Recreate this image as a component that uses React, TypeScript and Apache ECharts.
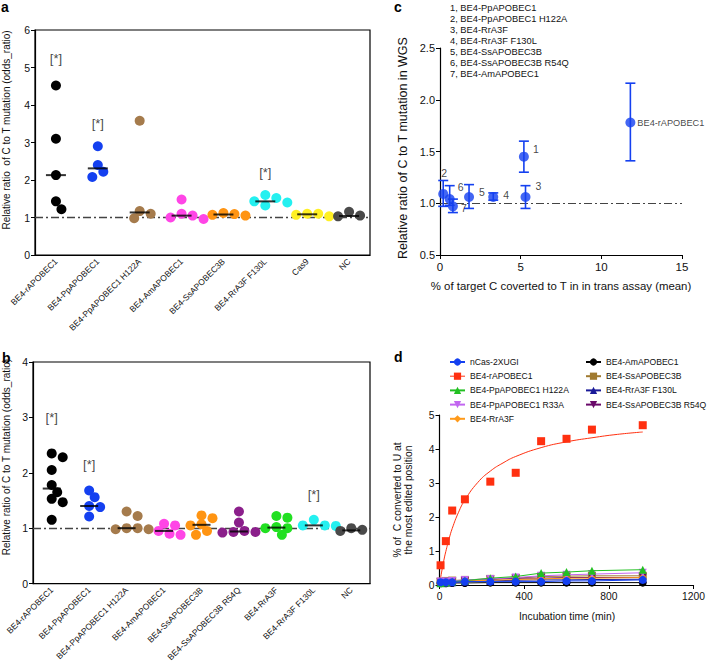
import React, { useEffect, useRef } from "react";
import * as echarts from "echarts";

// ---------- Panel a ----------
const catsA = ["BE4-rAPOBEC1", "BE4-PpAPOBEC1", "BE4-PpAPOBEC1 H122A", "BE4-AmAPOBEC1", "BE4-SsAPOBEC3B", "BE4-RrA3F F130L", "Cas9", "NC"];
const valsA = [
  [4.52, 3.1, 2.13, 1.43, 1.22],
  [2.9, 2.4, 2.22, 2.08],
  [3.58, 1.17, 1.1, 0.98],
  [1.48, 1.1, 1.05, 1.0, 0.96],
  [1.12, 1.09, 1.07, 1.05],
  [1.6, 1.52, 1.43, 1.4, 1.32],
  [1.1, 1.1, 1.07, 1.03],
  [1.15, 1.05, 1.03, 1.0],
];
const starCatsA = [0, 1, 5];
const starYA = [5.25, 3.52, 2.2];

// ---------- Panel b ----------
const catsB = ["BE4-rAPOBEC1", "BE4-PpAPOBEC1", "BE4-PpAPOBEC1 H122A", "BE4-AmAPOBEC1", "BE4-SsAPOBEC3B", "BE4-SsAPOBEC3B R54Q", "BE4-RrA3F", "BE4-RrA3F F130L", "NC"];
const valsB = [
  [2.35, 2.28, 2.05, 1.78, 1.65, 1.53, 1.47, 1.15],
  [1.68, 1.56, 1.4, 1.38, 1.21],
  [1.3, 1.22, 1.0, 0.98, 0.98, 1.0],
  [1.08, 1.05, 0.95, 0.9, 0.88],
  [1.23, 1.18, 1.07, 1.05, 0.95, 0.88],
  [1.3, 1.1, 0.95, 0.93, 0.92, 0.93],
  [1.22, 1.19, 1.02, 1.0, 1.0, 0.88],
  [1.15, 1.05, 1.05, 1.04],
  [1.0, 0.97, 0.93, 0.95],
];
const starCatsB = [0, 1, 7];
const starYB = [3.0, 2.15, 1.6];

// ---------- Panel c ----------
const cNames = ["BE4-rAPOBEC1", "1", "2", "3", "4", "5", "6", "7"];
const cX = [11.8, 5.2, 0.2, 5.3, 3.3, 1.8, 0.6, 0.8];
const cY = [1.78, 1.45, 1.09, 1.06, 1.06, 1.06, 1.04, 0.97];
const cLow = [1.41, 1.3, 0.97, 0.95, 1.03, 0.95, 0.98, 0.91];
const cHigh = [2.16, 1.6, 1.22, 1.17, 1.1, 1.18, 1.17, 1.04];
const cKey = [
  "1, BE4-PpAPOBEC1",
  "2, BE4-PpAPOBEC1 H122A",
  "3, BE4-RrA3F",
  "4, BE4-RrA3F F130L",
  "5, BE4-SsAPOBEC3B",
  "6, BE4-SsAPOBEC3B R54Q",
  "7, BE4-AmAPOBEC1",
];

// ---------- Panel d ----------
const dTimes = [5, 30, 60, 120, 240, 360, 480, 600, 720, 960];
const dNames = ["nCas-2XUGI", "BE4-rAPOBEC1", "BE4-PpAPOBEC1 H122A", "BE4-PpAPOBEC1 R33A", "BE4-RrA3F", "BE4-AmAPOBEC1", "BE4-SsAPOBEC3B", "BE4-RrA3F F130L", "BE4-SsAPOBEC3B R54Q"];
const dNCas = [0.08, 0.08, 0.08, 0.1, 0.1, 0.1, 0.1, 0.12, 0.12, 0.15];
const dRAPO = [0.58, 1.29, 2.19, 2.52, 3.04, 3.3, 4.23, 4.3, 4.57, 4.7];
const dH122A = [0.05, 0.07, 0.1, 0.13, 0.2, 0.25, 0.35, 0.38, 0.42, 0.45];
const dR33A = [0.1, 0.1, 0.12, 0.15, 0.18, 0.22, 0.27, 0.3, 0.32, 0.36];
const dRrA3F = [0.08, 0.1, 0.1, 0.12, 0.14, 0.16, 0.18, 0.2, 0.2, 0.22];
const dAm = [0.05, 0.05, 0.06, 0.06, 0.07, 0.07, 0.07, 0.07, 0.07, 0.07];
const dSs = [0.1, 0.12, 0.13, 0.15, 0.18, 0.2, 0.25, 0.26, 0.27, 0.27];
const dF130L = [0.06, 0.07, 0.08, 0.1, 0.12, 0.14, 0.15, 0.15, 0.16, 0.17];
const dR54Q = [0.08, 0.09, 0.1, 0.12, 0.16, 0.2, 0.2, 0.22, 0.22, 0.22];
const fitTimes = [0, 10, 20, 30, 45, 60, 90, 120, 180, 240, 300, 360, 480, 600, 720, 840, 960];
const fitVals = [0, 0.38, 0.71, 0.99, 1.35, 1.66, 2.14, 2.5, 3.01, 3.35, 3.59, 3.78, 4.04, 4.21, 4.33, 4.43, 4.5];

const FONT = "Liberation Sans, Arial, sans-serif";
const TXT = "#111";
const colA = ["#000000", "#1440F0", "#A57B4C", "#FF45E6", "#FF9412", "#24F0F0", "#FFF024", "#4A4A4A"];
const colB = ["#000000", "#1440F0", "#A57B4C", "#FF45E6", "#FF9412", "#8B1F8B", "#22E022", "#24F0F0", "#4A4A4A"];
const BLUE = "#1440F0";
const RED = "#FF3010";

function median(v: number[]) {
  const s = [...v].sort((a, b) => a - b);
  const n = s.length;
  return n % 2 ? s[(n - 1) / 2] : (s[n / 2 - 1] + s[n / 2]) / 2;
}

function swarm(vals: number[], pxPerY: number, pxPerCat: number, d: number) {
  const order = vals.map((_, i) => i).sort((a, b) => vals[b] - vals[a]);
  const placed: { x: number; y: number }[] = [];
  const offs = new Array(vals.length).fill(0);
  for (const i of order) {
    const y = vals[i] * pxPerY;
    let best = 0;
    for (let k = 0; k < 40; k++) {
      const cand = k === 0 ? 0 : (k % 2 === 1 ? 1 : -1) * Math.ceil(k / 2) * d * 0.55;
      if (placed.every((p) => Math.hypot(p.x - cand, p.y - y) >= d * 0.85)) {
        best = cand;
        break;
      }
    }
    placed.push({ x: best, y });
    offs[i] = best / pxPerCat;
  }
  return offs;
}

function beePanel(gi: number, xVal: number, cats: string[], vals: number[][], cols: string[], pxY: number, pxC: number, starC: number[], starY: number[], barW: number) {
  const series: any[] = [];
  vals.forEach((v, ci) => {
    const offs = swarm(v, pxY, pxC, 10);
    series.push({
      type: "scatter",
      xAxisIndex: xVal,
      yAxisIndex: gi,
      symbolSize: 10,
      itemStyle: { color: cols[ci], opacity: 1 },
      data: v.map((y, i) => [ci + offs[i], y]),
      z: 3,
    });
  });
  series.push({
    type: "scatter",
    xAxisIndex: xVal,
    yAxisIndex: gi,
    symbol: "rect",
    symbolSize: [barW, 2],
    itemStyle: { color: "#000" },
    data: vals.map((v, ci) => [ci, median(v)]),
    z: 5,
    markLine: {
      silent: true,
      symbol: "none",
      label: { show: false },
      lineStyle: { color: "#444", width: 1.3, type: [8, 3, 2, 3] },
      data: [{ yAxis: 1 }],
      z: 2,
    },
  });
  series.push({
    type: "scatter",
    xAxisIndex: xVal,
    yAxisIndex: gi,
    symbolSize: 1,
    itemStyle: { color: "rgba(0,0,0,0)" },
    label: { show: true, position: "inside", formatter: "[*]", fontSize: 13, color: TXT, fontFamily: FONT },
    data: starC.map((c, i) => [c, starY[i]]),
  });
  const xAxes = [
    {
      type: "category",
      gridIndex: gi,
      data: cats,
      boundaryGap: true,
      axisLine: { lineStyle: { color: "#000", width: 1.2 } },
      axisTick: { show: false },
      axisLabel: { rotate: 45, interval: 0, fontSize: 8.5, color: TXT, fontFamily: FONT, margin: 5 },
    },
    { type: "value", gridIndex: gi, min: -0.5, max: cats.length - 0.5, show: false },
  ];
  return { series, xAxes };
}

export default function App() {
  const ref = useRef<HTMLDivElement>(null);
  useEffect(() => {
    document.body.style.margin = "0";
    const chart = echarts.init(ref.current!, null, { renderer: "svg" });

    const pa = beePanel(0, 1, catsA, valsA, colA, 37.5, 335 / 8, starCatsA, starYA, 20);
    const pb = beePanel(1, 3, catsB, valsB, colB, 56, 337 / 9, starCatsB, starYB, 18);

    const yBase = (gi: number, min: number, max: number, interval: number, fs: number, fmt?: (v: number) => string) => ({
      type: "value",
      gridIndex: gi,
      min,
      max,
      interval,
      splitLine: { show: false },
      axisLine: { show: true, onZero: false, lineStyle: { color: "#000", width: 1.2 } },
      axisTick: { show: true, length: 4, lineStyle: { color: "#000" } },
      axisLabel: { fontSize: fs, color: TXT, fontFamily: FONT, margin: 5, formatter: fmt },
    });

    const labelCfg: any[] = [
      { position: "right", offset: [-2, 0] },
      { position: "right", offset: [0, -8] },
      { position: "top", offset: [1, -6] },
      { position: "right", offset: [1, -11] },
      { position: "right", offset: [1, -2] },
      { position: "right", offset: [1, -5] },
      { position: "right", offset: [-1, -12] },
      { position: "right", offset: [-1, 2] },
    ];

    const dSets = [dNCas, dRAPO, dH122A, dR33A, dRrA3F, dAm, dSs, dF130L, dR54Q];
    const dCols = [BLUE, RED, "#22C022", "#C266F0", "#FF9A1A", "#000000", "#A07A30", "#1A1A99", "#6A0A6A"];
    const downTri = "path://M0,0L10,0L5,9Z";
    const dSyms = ["circle", "rect", "triangle", downTri, "diamond", "circle", "rect", "triangle", downTri];
    const drawOrder = [5, 6, 8, 7, 4, 3, 2, 1, 0];
    const dSeries: any[] = drawOrder.map((k) => ({
      name: dNames[k],
      type: "line",
      xAxisIndex: 5,
      yAxisIndex: 3,
      symbol: dSyms[k],
      symbolSize: 8,
      showSymbol: true,
      itemStyle: { color: dCols[k] },
      lineStyle: { color: dCols[k], width: k === 1 ? 0 : 1 },
      data: dTimes.map((t, i) => [t, dSets[k][i]]),
      z: 3 + drawOrder.indexOf(k),
    }));
    dSeries.push({
      type: "line",
      xAxisIndex: 5,
      yAxisIndex: 3,
      smooth: true,
      showSymbol: false,
      symbol: "none",
      lineStyle: { color: RED, width: 1 },
      data: fitTimes.map((t, i) => [t, fitVals[i]]),
      z: 2,
    });

    const legendItem = (n: string) => (n === "BE4-rAPOBEC1" ? { name: n, lineStyle: { width: 1 } } : { name: n });
    const legendText = { fontSize: 8.6, color: TXT, fontFamily: FONT, lineHeight: 10 };

    const option: any = {
      animation: false,
      textStyle: { fontFamily: FONT },
      grid: [
        { left: 35, top: 30, width: 335, height: 225, show: true, borderColor: "#000", borderWidth: 1.2 },
        { left: 33, top: 362, width: 337, height: 224, show: true, borderColor: "#000", borderWidth: 1.2 },
        { left: 440, top: 48, width: 242, height: 207 },
        { left: 439.5, top: 415, width: 255.5, height: 170 },
      ],
      xAxis: [
        ...pa.xAxes,
        ...pb.xAxes,
        {
          type: "value",
          gridIndex: 2,
          min: 0,
          max: 15,
          interval: 5,
          splitLine: { show: false },
          axisLine: { onZero: false, lineStyle: { color: "#000", width: 1.2 } },
          axisTick: { length: 4, lineStyle: { color: "#000" } },
          axisLabel: { fontSize: 11.5, color: TXT, fontFamily: FONT, margin: 6 },
        },
        {
          type: "value",
          gridIndex: 3,
          min: 0,
          max: 1200,
          interval: 400,
          splitLine: { show: false },
          axisLine: { onZero: false, lineStyle: { color: "#000", width: 1.2 } },
          axisTick: { length: 4, lineStyle: { color: "#000" } },
          axisLabel: { fontSize: 10.3, color: TXT, fontFamily: FONT, margin: 6, formatter: (v: number) => String(v) },
        },
      ],
      yAxis: [
        yBase(0, 0, 6, 1, 10.5),
        yBase(1, 0, 4, 1, 10.5),
        yBase(2, 0.5, 2.5, 0.5, 11, (v: number) => v.toFixed(1)),
        yBase(3, 0, 5, 1, 10.3),
      ],
      legend: [
        {
          left: 444,
          top: 352,
          orient: "vertical",
          itemWidth: 15,
          itemHeight: 9,
          itemGap: 4.2,
          textStyle: legendText,
          data: dNames.slice(0, 5).map(legendItem),
        },
        {
          left: 580,
          top: 352,
          orient: "vertical",
          itemWidth: 15,
          itemHeight: 9,
          itemGap: 4.2,
          textStyle: legendText,
          data: dNames.slice(5).map(legendItem),
        },
      ],
      graphic: [
        { type: "text", left: 1, top: 0, style: { text: "a", font: `bold 14px ${FONT}`, fill: "#000" } },
        { type: "text", left: 2, top: 351, style: { text: "b", font: `bold 14px ${FONT}`, fill: "#000" } },
        { type: "text", left: 394, top: 0, style: { text: "c", font: `bold 14px ${FONT}`, fill: "#000" } },
        { type: "text", left: 394, top: 350, style: { text: "d", font: `bold 14px ${FONT}`, fill: "#000" } },
        {
          type: "text", x: 6, y: 130, rotation: Math.PI / 2,
          style: { text: "Relative ratio  of C to T mutation (odds_ratio)", font: `10px ${FONT}`, fill: TXT, align: "center", verticalAlign: "middle" },
        },
        {
          type: "text", x: 6, y: 457, rotation: Math.PI / 2,
          style: { text: "Relative ratio of C to T mutation (odds_ratio)", font: `10px ${FONT}`, fill: TXT, align: "center", verticalAlign: "middle" },
        },
        {
          type: "text", x: 403, y: 148, rotation: Math.PI / 2,
          style: { text: "Relative ratio of C to T mutation in WGS", font: `12.5px ${FONT}`, fill: TXT, align: "center", verticalAlign: "middle" },
        },
        {
          type: "text", x: 561, y: 286,
          style: { text: "% of target C coverted to T in in trans assay (mean)", font: `11.4px ${FONT}`, fill: TXT, align: "center", verticalAlign: "middle" },
        },
        {
          type: "text", x: 450, y: 2,
          style: { text: cKey.join("\n"), font: `9.3px ${FONT}`, lineHeight: 11.1, fill: TXT, align: "left", verticalAlign: "top" },
        },
        {
          type: "text", x: 403, y: 500, rotation: Math.PI / 2,
          style: { text: "% of  C converted to U at\nthe most edited position", font: `10.3px ${FONT}`, lineHeight: 11.7, fill: TXT, align: "center", verticalAlign: "middle" },
        },
        {
          type: "text", x: 567, y: 616,
          style: { text: "Incubation time (min)", font: `10.3px ${FONT}`, fill: TXT, align: "center", verticalAlign: "middle" },
        },
      ],
      series: [
        ...pa.series,
        ...pb.series,
        {
          type: "custom",
          xAxisIndex: 4,
          yAxisIndex: 2,
          data: cX.map((x, i) => [x, cLow[i], cHigh[i]]),
          renderItem: (params: any, api: any) => {
            const x = api.value(0);
            const lo = api.coord([x, api.value(1)]);
            const hi = api.coord([x, api.value(2)]);
            const w = 5;
            const st = { stroke: BLUE, lineWidth: 1.6 };
            return {
              type: "group",
              children: [
                { type: "line", shape: { x1: lo[0], y1: lo[1], x2: hi[0], y2: hi[1] }, style: st },
                { type: "line", shape: { x1: lo[0] - w, y1: lo[1], x2: lo[0] + w, y2: lo[1] }, style: st },
                { type: "line", shape: { x1: hi[0] - w, y1: hi[1], x2: hi[0] + w, y2: hi[1] }, style: st },
              ],
            };
          },
          z: 3,
        },
        {
          type: "scatter",
          xAxisIndex: 4,
          yAxisIndex: 2,
          symbolSize: 10,
          itemStyle: { color: BLUE },
          z: 4,
          data: cX.map((x, i) => ({
            value: [x, cY[i]],
            label: {
              show: true,
              formatter: cNames[i],
              fontSize: i === 0 ? 9.2 : 10.5,
              color: TXT,
              fontFamily: FONT,
              distance: 4,
              ...labelCfg[i],
            },
          })),
          markLine: {
            silent: true,
            symbol: "none",
            label: { show: false },
            lineStyle: { color: "#444", width: 1.2, type: [8, 3, 2, 3] },
            data: [{ yAxis: 1 }],
            z: 2,
          },
        },
        ...dSeries,
      ],
    };
    chart.setOption(option);
    return () => chart.dispose();
  }, []);
  return <div ref={ref} style={{ width: 708, height: 664 }} />;
}
